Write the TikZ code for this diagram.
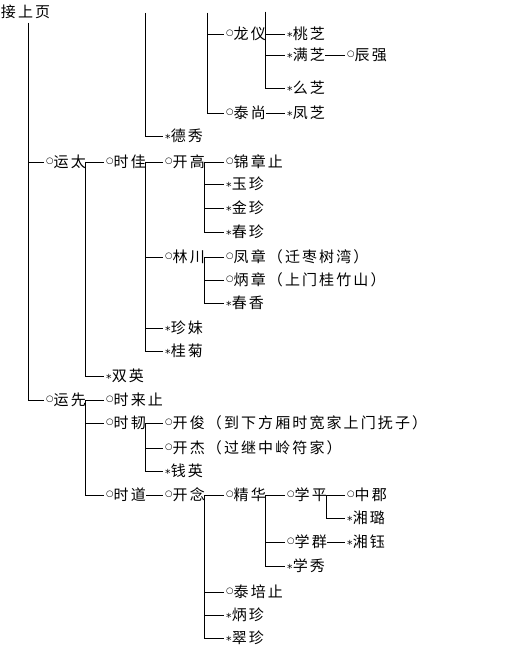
\documentclass[tikz,border=0pt]{standalone}
\usepackage{fontspec}
\newfontfamily\cjk{Noto Sans CJK SC}[LetterSpace=14]
\newfontfamily\symf{DejaVu Sans}
\newcommand\mo{\hspace{2pt}\raisebox{3.9pt}{\symf\fontsize{8.5}{8.5}\selectfont ○}\hspace{0.3pt}}
\newcommand\ma{\hspace{2pt}\raisebox{-1.2pt}{\symf\fontsize{11}{11}\selectfont *}\hspace{0.3pt}}
\begin{document}
\begin{tikzpicture}[x=1pt,y=-1pt,
  n/.style={anchor=west,inner xsep=0pt,inner ysep=0pt,outer sep=0pt,
    font=\cjk\fontsize{15}{15}\selectfont,text height=13pt,text depth=1.7pt},
  ln/.style={line width=0.9pt,black}]
\useasboundingbox (0,0) rectangle (504,668);
% top
\node[n] (top) at (1,12) {接上页};
\node[n] (longyi) at (224,34) {\mo 龙仪};
\node[n] (taozhi) at (285,34) {\ma 桃芝};
\node[n] (manzhi) at (285,55) {\ma 满芝};
\node[n] (chenqiang) at (345,55) {\mo 辰强};
\node[n] (yaozhi) at (285,88) {\ma 么芝};
\node[n] (taishang) at (224,113) {\mo 泰尚};
\node[n] (fengzhi) at (285,113) {\ma 凤芝};
\node[n] (dexiu) at (163,136) {\ma 德秀};
% yuntai
\node[n] (yuntai) at (44,162) {\mo 运太};
\node[n] (shijia) at (104,162) {\mo 时佳};
\node[n] (kaigao) at (163,162) {\mo 开高};
\node[n] (jinzhangzhi) at (224,162) {\mo 锦章止};
\node[n] (yuzhen) at (224,184) {\ma 玉珍};
\node[n] (jinzhen) at (224,208) {\ma 金珍};
\node[n] (chunzhen) at (224,232) {\ma 春珍};
\node[n] (linchuan) at (163,257) {\mo 林川};
\node[n] (fengzhang) at (224,257) {\mo 凤章（迁枣树湾）};
\node[n] (bingzhang) at (224,280) {\mo 炳章（上门桂竹山）};
\node[n] (chunxiang) at (224,303) {\ma 春香};
\node[n] (zhenmei) at (163,328) {\ma 珍妹};
\node[n] (guiju) at (163,351) {\ma 桂菊};
\node[n] (shuangying) at (104,376) {\ma 双英};
% yunxian
\node[n] (yunxian) at (44,400) {\mo 运先};
\node[n] (shilaizhi) at (104,400) {\mo 时来止};
\node[n] (shiren) at (104,423) {\mo 时韧};
\node[n] (kaijun) at (163,423) {\mo 开俊（到下方厢时宽家上门抚子）};
\node[n] (kaijie) at (163,448) {\mo 开杰（过继中岭符家）};
\node[n] (qianying) at (163,471) {\ma 钱英};
\node[n] (shidao) at (104,495) {\mo 时道};
\node[n] (kainian) at (163,495) {\mo 开念};
\node[n] (jinghua) at (224,495) {\mo 精华};
\node[n] (xueping) at (285,495) {\mo 学平};
\node[n] (zhongjun) at (345,495) {\mo 中郡};
\node[n] (xianglu) at (345,518) {\ma 湘璐};
\node[n] (xuequn) at (285,542) {\mo 学群};
\node[n] (xiangyu) at (345,542) {\ma 湘钰};
\node[n] (xuexiu) at (285,566) {\ma 学秀};
\node[n] (taipeizhi) at (224,592) {\mo 泰培止};
\node[n] (bingzhen) at (224,615) {\ma 炳珍};
\node[n] (cuizhen) at (224,638) {\ma 翠珍};
% free ends
\coordinate (m) at (28,23);
\coordinate (t1) at (145,13);
\coordinate (t2) at (207,13);
\coordinate (t3) at (longyi.east |- 0,12);
% connectors
\begin{scope}[ln]
\draw (m) |- (yuntai.west);
\draw (m) |- (yunxian.west);
\draw (t1) |- (dexiu.west);
\draw (t2) |- (longyi.west);
\draw (t2) |- (taishang.west);
\draw (t3) |- (taozhi.west);
\draw (t3) |- (manzhi.west);
\draw (t3) |- (yaozhi.west);
\draw (manzhi.east) -- (chenqiang.west);
\draw (taishang.east) -- (fengzhi.west);
\draw (yuntai.east) -- (shijia.west);
\draw (yuntai.east) |- (shuangying.west);
\draw (shijia.east) -- (kaigao.west);
\draw (shijia.east) |- (linchuan.west);
\draw (shijia.east) |- (zhenmei.west);
\draw (shijia.east) |- (guiju.west);
\draw (kaigao.east) -- (jinzhangzhi.west);
\draw (kaigao.east) |- (yuzhen.west);
\draw (kaigao.east) |- (jinzhen.west);
\draw (kaigao.east) |- (chunzhen.west);
\draw (linchuan.east) -- (fengzhang.west);
\draw (linchuan.east) |- (bingzhang.west);
\draw (linchuan.east) |- (chunxiang.west);
\draw (yunxian.east) -- (shilaizhi.west);
\draw (yunxian.east) |- (shiren.west);
\draw (yunxian.east) |- (shidao.west);
\draw (shiren.east) -- (kaijun.west);
\draw (shiren.east) |- (kaijie.west);
\draw (shiren.east) |- (qianying.west);
\draw (shidao.east) -- (kainian.west);
\draw (kainian.east) -- (jinghua.west);
\draw (kainian.east) |- (taipeizhi.west);
\draw (kainian.east) |- (bingzhen.west);
\draw (kainian.east) |- (cuizhen.west);
\draw (jinghua.east) -- (xueping.west);
\draw (jinghua.east) |- (xuequn.west);
\draw (jinghua.east) |- (xuexiu.west);
\draw (xueping.east) -- (zhongjun.west);
\draw (xueping.east) |- (xianglu.west);
\draw (xuequn.east) -- (xiangyu.west);
\end{scope}
\end{tikzpicture}
\end{document}
